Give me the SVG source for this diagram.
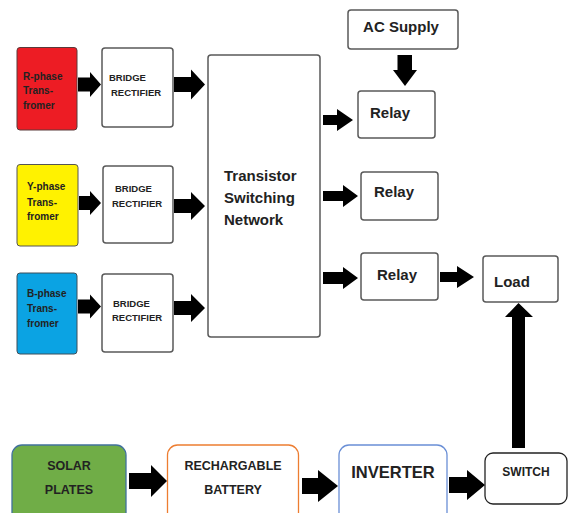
<svg xmlns="http://www.w3.org/2000/svg" width="568" height="513" viewBox="0 0 568 513">
  <style>
    .box { fill: #ffffff; stroke: #595959; stroke-width: 1.5; }
    .t { font-family: "Liberation Sans", Arial, sans-serif; font-weight: bold; fill: #222222; }
    .s10 { font-size: 10px; }
    .s9 { font-size: 9.5px; }
    .s12 { font-size: 12.5px; }
    .s15 { font-size: 15px; }
    .arrow { fill: #000000; }
  </style>
  <rect width="568" height="513" fill="#ffffff"/>

  <!-- transformers -->
  <g id="r-phase">
    <rect x="17" y="47.5" width="60" height="82.5" rx="3" fill="#ED1C24" stroke="#5a3a3a" stroke-width="1"/>
    <text class="t s10" x="23" y="79.5">R-phase</text>
    <text class="t s10" x="23" y="93.5">Trans-</text>
    <text class="t s10" x="23" y="108.5">fromer</text>
  </g>
  <g id="y-phase">
    <rect x="17" y="164.5" width="61" height="81.5" rx="3" fill="#FFF200" stroke="#555555" stroke-width="1"/>
    <text class="t s10" x="27" y="189.5">Y-phase</text>
    <text class="t s10" x="27" y="205.5">Trans-</text>
    <text class="t s10" x="27" y="219.5">fromer</text>
  </g>
  <g id="b-phase">
    <rect x="17" y="273" width="60" height="81" rx="3" fill="#0BA3E3" stroke="#3d4f5a" stroke-width="1"/>
    <text class="t s10" x="27" y="296.5">B-phase</text>
    <text class="t s10" x="27" y="311.5">Trans-</text>
    <text class="t s10" x="27" y="326.5">fromer</text>
  </g>

  <!-- rectifiers -->
  <g id="rectifier-1">
    <rect class="box" x="102" y="48" width="71" height="79" rx="3"/>
    <text class="t s9" x="109" y="80.5">BRIDGE</text>
    <text class="t s9" x="111" y="95.5">RECTIFIER</text>
  </g>
  <g id="rectifier-2">
    <rect class="box" x="103" y="166" width="70" height="77" rx="3"/>
    <text class="t s9" x="115" y="191.5">BRIDGE</text>
    <text class="t s9" x="112" y="206.5">RECTIFIER</text>
  </g>
  <g id="rectifier-3">
    <rect class="box" x="102" y="274" width="71" height="78" rx="3"/>
    <text class="t s9" x="113" y="306.5">BRIDGE</text>
    <text class="t s9" x="112" y="320.5">RECTIFIER</text>
  </g>

  <!-- switching network -->
  <g id="switching-network">
    <rect class="box" x="208" y="55" width="112" height="282" rx="3"/>
    <text class="t s15" x="224" y="181">Transistor</text>
    <text class="t s15" x="224" y="203">Switching</text>
    <text class="t s15" x="224" y="225">Network</text>
  </g>

  <!-- supply and relays -->
  <g id="ac-supply">
    <rect class="box" x="348" y="10" width="110" height="39" rx="3"/>
    <text class="t s15" x="401" y="32" text-anchor="middle">AC Supply</text>
  </g>
  <g id="relay-1">
    <rect class="box" x="358" y="91" width="77" height="47" rx="3"/>
    <text class="t s15" x="370" y="118">Relay</text>
  </g>
  <g id="relay-2">
    <rect class="box" x="361" y="172" width="77" height="48" rx="3"/>
    <text class="t s15" x="374" y="197">Relay</text>
  </g>
  <g id="relay-3">
    <rect class="box" x="361" y="253" width="77" height="47" rx="3"/>
    <text class="t s15" x="377" y="280">Relay</text>
  </g>
  <g id="load">
    <rect class="box" x="483" y="256" width="75" height="46" rx="3"/>
    <text class="t s15" x="494" y="287">Load</text>
  </g>

  <!-- solar chain -->
  <g id="solar-plates">
    <rect x="12" y="445" width="114" height="80" rx="10" fill="#70AD47" stroke="#41719C" stroke-width="1.3"/>
    <text class="t s12" x="69" y="470" text-anchor="middle">SOLAR</text>
    <text class="t s12" x="69" y="494" text-anchor="middle">PLATES</text>
  </g>
  <g id="battery">
    <rect x="167.5" y="445" width="131" height="80" rx="10" fill="#ffffff" stroke="#ED7D31" stroke-width="1.3"/>
    <text class="t s12" x="233" y="470" text-anchor="middle">RECHARGABLE</text>
    <text class="t s12" x="233" y="494" text-anchor="middle">BATTERY</text>
  </g>
  <g id="inverter">
    <rect x="339" y="445" width="108" height="80" rx="10" fill="#ffffff" stroke="#6A8FD6" stroke-width="1.3"/>
    <text class="t" x="393" y="478" font-size="16.5" text-anchor="middle">INVERTER</text>
  </g>
  <g id="switch">
    <rect x="485" y="453" width="82" height="51" rx="8" fill="#ffffff" stroke="#222222" stroke-width="1.3"/>
    <text class="t" x="526" y="475.5" font-size="12" text-anchor="middle">SWITCH</text>
  </g>

  <!-- block arrows -->
  <g id="connectors" class="arrow">
    <polygon points="78,77.5 90,77.5 90,72 101,84.5 90,97 90,91.5 78,91.5"/>
    <polygon points="174,77 191,77 191,69.5 205,84.5 191,99.5 191,92 174,92"/>
    <polygon points="79,196 90,196 90,191 101,203 90,215 90,210 79,210"/>
    <polygon points="174,199 191,199 191,192 205,206 191,220 191,213 174,213"/>
    <polygon points="78,299.5 90,299.5 90,294.5 101,306.5 90,318.5 90,313.5 78,313.5"/>
    <polygon points="174,301 191,301 191,294 205,308 191,322 191,315 174,315"/>
    <polygon points="323,115 337,115 337,109 353,120 337,131 337,125 323,125"/>
    <polygon points="323,191 343,191 343,185 358,196 343,207 343,201 323,201"/>
    <polygon points="323,272 343,272 343,267 358,278 343,289 343,284 323,284"/>
    <polygon points="440,272 457,272 457,266 474,277 457,288 457,282 440,282"/>
    <polygon points="397.5,55 412,55 412,70 417,70 405,86 393,70 397.5,70"/>
    <polygon points="512,448 525,448 525,317 533,317 518.5,303 505,317 512,317"/>
    <polygon points="129,473 151,473 151,465 167,481 151,497 151,489 129,489"/>
    <polygon points="302,478 318,478 318,470 338,486 318,502 318,494 302,494"/>
    <polygon points="449,477 467,477 467,470 485,485 467,500 467,493 449,493"/>
  </g>
</svg>
